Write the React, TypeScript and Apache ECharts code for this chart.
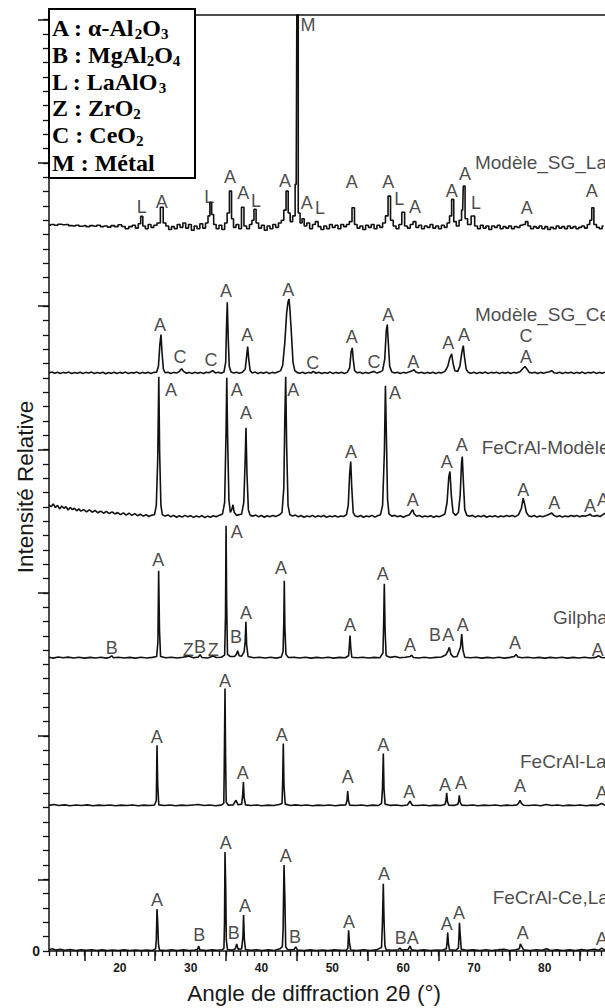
import { useEffect, useRef } from 'react';
import * as echarts from 'echarts';

// ---- axes ----
const X_MIN = 10;
const X_MAX = 88.5;
const Y_MAX = 653.2;
const xTickLabels = [20, 30, 40, 50, 60, 70, 80];
const xLongTicks = [15, 25, 35, 45, 55, 65, 75, 85];
const yTickLabels = [0];
const yLongTicks = [50, 150, 250, 350, 450, 550, 650];

// ---- diffractograms: [2θ, relative intensity above own baseline] ----
const fecralCeLa = [
  [10, 0.8], [10.5, 1.5], [11, 0.6], [11.6, 1.2], [12.2, 0.5], [13, 1], [13.8, 0.4], [14.5, 0.9], [15.3, 0.5], [16, 0.9],
  [16.8, 0.3], [17.5, 0.8], [18.3, 0.4], [19, 0.7], [19.8, 0.3], [20.6, 0.8], [21.4, 0.4], [22.2, 0.7], [23, 0.3], [23.8, 0.6],
  [24.6, 0.4], [25.05, 1.5], [25.15, 8], [25.25, 29.3], [25.35, 20], [25.45, 5], [25.6, 0.6], [26.5, 0.4], [27.3, 0.9], [28.1, 0.4],
  [29, 0.8], [29.8, 0.4], [30.6, 0.7], [31, 1.2], [31.12, 3.5], [31.3, 0.8], [32.2, 0.4], [33, 0.8], [33.8, 0.5], [34.5, 0.9],
  [34.7, 2], [34.78, 20], [34.85, 69], [34.95, 45], [35.03, 8], [35.2, 1], [35.9, 0.6], [36.3, 1.5], [36.5, 4.9], [36.7, 1.2],
  [37.2, 1.5], [37.38, 10], [37.47, 25.1], [37.58, 8], [37.75, 1], [38.5, 0.5], [39.3, 0.9], [40.1, 0.4], [41, 0.8], [41.8, 0.3],
  [42.6, 1.5], [42.95, 3], [43.05, 15], [43.18, 60], [43.3, 38], [43.42, 3], [43.7, 0.8], [44.6, 1], [44.83, 2.8], [45.1, 0.6],
  [46, 0.4], [46.9, 0.8], [47.7, 0.3], [48.6, 0.7], [49.4, 0.4], [50.3, 0.8], [51.2, 0.5], [52, 0.7], [52.2, 2], [52.3, 14.5],
  [52.42, 6], [52.6, 0.7], [53.5, 0.4], [54.4, 0.9], [55.3, 0.4], [56.2, 0.8], [56.95, 2.5], [57.08, 20], [57.2, 47], [57.3, 22],
  [57.42, 4], [57.6, 0.8], [58.5, 0.5], [59.3, 0.9], [59.55, 2], [59.8, 0.6], [60.7, 1], [60.97, 3.5], [61.2, 0.8], [62, 0.4],
  [62.9, 0.8], [63.8, 0.3], [64.7, 0.7], [65.5, 0.5], [66.1, 1.5], [66.2, 6], [66.29, 12.8], [66.4, 5], [66.55, 0.8], [67.4, 0.5],
  [67.8, 2], [67.88, 10], [67.95, 19.7], [68.05, 12], [68.2, 1.2], [69, 0.5], [69.9, 0.8], [70.8, 0.3], [71.7, 0.9], [72.5, 0.4],
  [73.4, 0.8], [74.2, 1.2], [75, 0.4], [75.9, 0.8], [76.4, 1.5], [76.55, 4.9], [76.75, 3], [77, 0.8], [77.9, 0.4], [78.8, 0.9],
  [79.6, 0.5], [80.27, 1.5], [80.8, 0.4], [81.7, 0.8], [82.6, 0.4], [83.5, 0.8], [84.3, 0.4], [85.2, 1], [86, 0.5], [87, 1.2],
  [87.6, 0.5], [88.03, 2], [88.5, 0.6],
];

const fecralLa = [
  [10, 0.6], [10.7, 1.2], [11.4, 0.5], [12.2, 1], [13, 0.4], [13.8, 0.9], [14.6, 0.5], [15.4, 1], [16.2, 0.4], [17, 0.8],
  [17.8, 0.5], [18.6, 0.9], [19.4, 0.4], [20.2, 0.8], [21, 0.5], [21.8, 0.9], [22.6, 0.4], [23.4, 0.8], [24.2, 0.5], [24.9, 0.9],
  [25.15, 4], [25.25, 42.6], [25.35, 15], [25.5, 1], [26.3, 0.5], [27.1, 0.9], [27.9, 0.4], [28.7, 0.8], [29.5, 0.5], [30.3, 0.9],
  [31.1, 1.2], [31.9, 0.5], [32.7, 0.9], [33.5, 0.4], [34.3, 0.8], [34.68, 2], [34.75, 30], [34.85, 82.1], [34.93, 35], [35.02, 3],
  [35.3, 0.8], [36, 0.9], [36.4, 4.2], [36.7, 1], [37.2, 1.5], [37.35, 8], [37.45, 17], [37.55, 6], [37.75, 1], [38.5, 0.5],
  [39.3, 0.9], [40.1, 0.4], [40.9, 0.8], [41.7, 0.5], [42.5, 1.2], [42.9, 2], [42.98, 15], [43.08, 43.8], [43.18, 14], [43.35, 1.5],
  [44.1, 0.5], [44.8, 1], [45.6, 0.5], [46.4, 0.9], [47.2, 0.4], [48, 0.8], [48.8, 0.5], [49.6, 0.9], [50.4, 0.4], [51.2, 0.8],
  [51.9, 1], [52.08, 4], [52.17, 10.7], [52.28, 4], [52.45, 0.8], [53.3, 0.5], [54.1, 0.9], [54.9, 0.4], [55.7, 0.8], [56.5, 0.5],
  [56.95, 2], [57.08, 12], [57.2, 36.8], [57.3, 12], [57.45, 1.5], [58.2, 0.6], [59, 0.9], [59.8, 0.4], [60.6, 0.9], [60.97, 3.5],
  [61.3, 0.7], [62.1, 0.5], [62.9, 0.9], [63.7, 0.4], [64.5, 0.8], [65.3, 0.5], [65.9, 1.2], [66.05, 4], [66.15, 9.3], [66.27, 3],
  [66.45, 0.8], [67.2, 0.6], [67.75, 1.5], [67.85, 4], [67.93, 7.7], [68.05, 3], [68.25, 0.8], [69, 0.5], [69.8, 0.9], [70.6, 0.4],
  [71.4, 0.8], [72.2, 0.5], [73, 0.9], [73.8, 0.4], [74.6, 0.8], [75.4, 0.5], [76.1, 1], [76.35, 2.5], [76.5, 4.2], [76.7, 2],
  [77, 0.7], [77.8, 0.5], [78.6, 0.9], [79.4, 0.4], [80.2, 1.2], [81, 0.5], [81.8, 0.9], [82.6, 0.4], [83.4, 0.8], [84.2, 0.5],
  [85, 0.9], [85.8, 0.4], [86.6, 0.8], [87.4, 0.6], [88, 2], [88.5, 0.7],
];

const gilphal = [
  [10, 1], [10.6, 0.4], [11.3, 1.2], [12, 0.6], [12.7, 1.1], [13.5, 0.5], [14.2, 1], [15, 0.4], [15.8, 0.9], [16.6, 0.5],
  [17.3, 1], [18.1, 0.4], [18.6, 1], [18.85, 2], [19.1, 0.6], [19.8, 1], [20.6, 0.5], [21.4, 0.9], [22.2, 0.4], [23, 1],
  [23.8, 0.5], [24.6, 0.9], [25.2, 1.5], [25.38, 12], [25.48, 61.4], [25.6, 20], [25.75, 1.5], [26.5, 0.6], [27.3, 1], [28.1, 0.5],
  [28.9, 1], [29.67, 1.8], [30.4, 0.6], [31.1, 1.2], [31.32, 2.8], [31.6, 0.8], [32.4, 0.5], [33.2, 1.8], [33.6, 0.8], [34.3, 1],
  [34.8, 2.5], [34.92, 30], [35.0, 92.8], [35.08, 40], [35.2, 3], [35.6, 1.5], [36.2, 1.5], [36.45, 3], [36.64, 5.6], [36.85, 2],
  [37.2, 1.8], [37.55, 5], [37.7, 12], [37.8, 25.8], [37.9, 10], [38.1, 1.5], [38.9, 0.6], [39.7, 1], [40.5, 0.5], [41.3, 1],
  [42.1, 0.4], [42.8, 1.2], [43.05, 5], [43.15, 25], [43.22, 54.4], [43.3, 22], [43.45, 3], [43.8, 0.8], [44.6, 1], [45.4, 0.5],
  [46.2, 1], [47, 0.4], [47.8, 0.9], [48.6, 0.5], [49.4, 1], [50.2, 0.4], [51, 0.9], [51.8, 0.6], [52.3, 2], [52.42, 10],
  [52.5, 16.1], [52.6, 8], [52.75, 1], [53.5, 0.6], [54.3, 1], [55.1, 0.5], [55.9, 0.9], [56.7, 0.6], [57.15, 4], [57.25, 25],
  [57.34, 52.3], [57.45, 20], [57.6, 2], [58.2, 0.9], [58.9, 1.5], [59.5, 0.6], [60.3, 1], [61, 1.5], [61.2, 2.5], [61.45, 0.8],
  [62.2, 0.5], [63, 1], [63.8, 0.5], [64.6, 0.9], [65.4, 1.2], [66.0, 2.5], [66.3, 5], [66.52, 7.9], [66.75, 3], [67.1, 1.2],
  [67.6, 1.5], [68.1, 8], [68.27, 17.2], [68.45, 6], [68.7, 1], [69.5, 0.6], [70.3, 1], [71.1, 0.4], [71.9, 0.9], [72.7, 0.5],
  [73.5, 1], [74.3, 0.4], [75.1, 0.9], [75.7, 1.5], [75.93, 3], [76.2, 1.2], [76.8, 0.6], [77.6, 1], [78.4, 0.5], [79.2, 0.9],
  [80, 0.4], [80.8, 0.9], [81.6, 0.5], [82.4, 1], [83.2, 0.4], [84, 0.9], [84.8, 0.5], [85.6, 1], [86.4, 0.5], [87.2, 0.9],
  [87.6, 2], [88, 0.8], [88.5, 0.6],
];

const fecralModele = [
  [10, 8.4], [10.3, 7], [10.6, 9], [10.9, 6.5], [11.2, 8], [11.5, 5.5], [11.8, 7.5], [12.1, 6], [12.4, 7], [12.7, 4.8],
  [13, 6.5], [13.3, 5], [13.6, 6], [13.9, 4.2], [14.2, 5.5], [14.5, 4], [14.9, 5], [15.3, 3.5], [15.7, 4.8], [16.1, 3.2],
  [16.5, 4.5], [16.9, 2.8], [17.3, 4], [17.7, 2.5], [18.1, 3.8], [18.5, 2.2], [18.9, 3.5], [19.3, 2], [19.7, 3], [20.1, 1.5],
  [20.5, 2.8], [20.9, 1.2], [21.3, 2.5], [21.7, 1], [22.1, 2.2], [22.5, 0.8], [22.9, 1.8], [23.3, 0.5], [23.7, 1.5], [24.1, 0.2],
  [24.5, 1.2], [24.9, 1.5], [25.15, 8], [25.35, 40], [25.5, 97.7], [25.62, 45], [25.8, 8], [26.0, 1.5], [26.4, 0.5], [26.8, 1.3],
  [27.2, 0], [27.6, 1], [28, -0.3], [28.4, 0.8], [28.8, -0.2], [29.2, 1], [29.6, 0], [30, 0.8], [30.4, -0.4], [30.8, 0.6],
  [31.2, -0.2], [31.6, 0.9], [32, -0.5], [32.4, 0.5], [32.8, -0.3], [33.2, 0.7], [33.6, 0], [34, 1], [34.5, 2], [34.8, 10],
  [35.0, 60], [35.1, 97], [35.22, 55], [35.4, 12], [35.6, 3], [35.8, 5], [35.98, 8.4], [36.15, 3], [36.5, 1], [37.2, 2],
  [37.5, 10], [37.7, 40], [37.81, 62.1], [37.95, 30], [38.15, 5], [38.4, 1], [38.8, 0.5], [39.2, 1.2], [39.6, 0], [40, 0.9],
  [40.4, -0.3], [40.8, 0.7], [41.2, 0], [41.6, 1], [42, 0.2], [42.5, 1.2], [42.9, 3], [43.15, 20], [43.3, 70], [43.42, 97.7],
  [43.55, 50], [43.75, 8], [44, 1.5], [44.4, 0.5], [44.8, 1.2], [45.2, 0], [45.6, 0.9], [46, -0.3], [46.4, 0.6], [46.8, 0],
  [47.2, 1], [47.6, -0.2], [48, 0.7], [48.4, 0], [48.8, 0.9], [49.2, -0.4], [49.6, 0.5], [50, 0], [50.4, 0.8], [50.8, -0.2],
  [51.2, 0.6], [51.6, 0.2], [52, 1.5], [52.25, 8], [52.45, 30], [52.6, 38.6], [52.75, 20], [52.95, 3], [53.2, 0.8], [53.6, 0],
  [54, 0.9], [54.4, -0.3], [54.8, 0.6], [55.2, 0], [55.6, 1], [56, -0.2], [56.4, 0.7], [56.8, 1.5], [57.1, 8], [57.35, 45],
  [57.5, 91.4], [57.62, 60], [57.8, 12], [58, 2], [58.4, 0.5], [58.8, 1], [59.2, 0], [59.6, 0.8], [60, -0.3], [60.4, 0.6],
  [60.9, 1.5], [61.2, 4], [61.35, 4.9], [61.55, 2], [61.9, 0.4], [62.3, 0.9], [62.7, -0.2], [63.1, 0.6], [63.5, 0], [63.9, 0.8],
  [64.3, -0.3], [64.7, 0.5], [65.1, 0], [65.5, 0.9], [65.9, 2], [66.2, 10], [66.45, 28], [66.61, 31.6], [66.8, 15], [67.05, 3],
  [67.4, 1], [67.8, 3], [68.05, 15], [68.25, 38], [68.35, 42.1], [68.5, 25], [68.7, 5], [69, 1], [69.4, 0.4], [69.8, 1],
  [70.2, -0.2], [70.6, 0.7], [71, 0], [71.4, 0.9], [71.8, -0.3], [72.2, 0.6], [72.6, 0], [73, 0.8], [73.4, -0.2], [73.8, 0.6],
  [74.2, 0], [74.6, 0.9], [75, 0.2], [75.4, 1], [75.8, 0], [76.3, 1.5], [76.7, 6], [76.95, 13], [77.15, 9], [77.4, 3],
  [77.7, 0.8], [78.1, 0], [78.5, 0.9], [78.9, -0.2], [79.3, 0.6], [79.7, 0], [80.2, 0.9], [80.7, 2], [80.97, 2.6], [81.3, 1],
  [81.7, 0], [82.1, 0.8], [82.5, -0.2], [82.9, 0.6], [83.3, 0], [83.7, 0.9], [84.1, 0.3], [84.5, 1], [84.9, 0], [85.3, 0.8],
  [85.8, 0.5], [86.2, 1.2], [86.38, 1.9], [86.6, 0.8], [87, 0.4], [87.4, 1], [87.8, 0.2], [88.2, 1.5], [88.5, 2.5],
];

const modeleSgCe = [
  [10, 0.3], [10.4, 1], [10.8, 0.2], [11.2, 0.9], [11.6, 0], [12, 0.8], [12.4, 0.3], [12.8, 1], [13.2, 0], [13.6, 0.7],
  [14, 0.2], [14.4, 0.9], [14.8, 0], [15.2, 0.8], [15.6, 0.3], [16, 1], [16.4, 0], [16.8, 0.7], [17.2, 0.2], [17.6, 0.9],
  [18, -0.2], [18.4, 0.7], [18.8, 0.1], [19.2, 0.9], [19.6, 0], [20, 0.8], [20.4, 0.2], [20.8, 1], [21.2, 0], [21.6, 0.7],
  [22, 0.3], [22.4, 1], [22.8, 0], [23.2, 0.8], [23.6, 0.2], [24, 0.9], [24.4, 0], [24.8, 0.8], [25.2, 1], [25.45, 5],
  [25.65, 20], [25.81, 27.2], [25.95, 15], [26.15, 3], [26.4, 0.5], [26.8, 0.9], [27.2, 0], [27.6, 0.8], [28, 0.3], [28.4, 1.5],
  [28.73, 3.3], [29, 1.5], [29.4, 0.2], [29.8, 0.8], [30.2, 0], [30.6, 0.9], [31, 0.2], [31.4, 0.8], [31.8, 0], [32.2, 0.9],
  [32.6, 0.5], [33.11, 2], [33.5, 0.4], [33.9, 0.9], [34.3, 0.2], [34.7, 1], [34.95, 8], [35.05, 30], [35.17, 49.8], [35.3, 25],
  [35.45, 5], [35.7, 1], [36.1, 0.3], [36.5, 0.9], [36.9, 0.2], [37.3, 0.9], [37.7, 3], [37.9, 12], [38.05, 18.8], [38.2, 10],
  [38.4, 2], [38.7, 0.4], [39.1, 1], [39.5, 0], [39.9, 0.8], [40.3, 0.2], [40.7, 1], [41.1, 0], [41.5, 0.8], [41.9, 0.3],
  [42.3, 1], [42.7, 2], [43.0, 6], [43.3, 22], [43.55, 42], [43.75, 50], [43.88, 52.1], [44.0, 46], [44.2, 30], [44.45, 8],
  [44.7, 2], [45, 0.8], [45.4, 0.2], [45.8, 0.9], [46.2, 0], [46.6, 0.8], [47.0, 0.3], [47.31, 1.5], [47.7, 0.2], [48.1, 0.9],
  [48.5, 0], [48.9, 0.7], [49.3, 0.2], [49.7, 1], [50.1, 0], [50.5, 0.8], [50.9, 0.2], [51.3, 0.9], [51.7, 0], [52.1, 0.8],
  [52.45, 4], [52.65, 15], [52.82, 17.9], [52.95, 10], [53.15, 2], [53.5, 0.5], [53.9, 0.9], [54.3, 0], [54.7, 0.8], [55.1, 0.2],
  [55.5, 0.9], [55.88, 1.5], [56.3, 0.3], [56.7, 1], [57.1, 2], [57.4, 10], [57.62, 30], [57.76, 34.2], [57.9, 22], [58.1, 5],
  [58.4, 1], [58.8, 0.3], [59.2, 0.9], [59.6, 0], [60, 0.8], [60.4, 0.3], [60.8, 1], [61.2, 1.8], [61.53, 2.6], [61.8, 1],
  [62.2, 0.3], [62.6, 0.9], [63, 0], [63.4, 0.8], [63.8, 0.2], [64.2, 0.9], [64.6, 0], [65, 0.8], [65.4, 0.3], [65.9, 1.5],
  [66.3, 5], [66.6, 11], [66.85, 13.7], [67.05, 7], [67.3, 2], [67.7, 1.5], [68.0, 5], [68.3, 15], [68.49, 19.5], [68.65, 12],
  [68.9, 3], [69.2, 0.8], [69.6, 0.2], [70, 0.9], [70.4, 0], [70.8, 0.8], [71.2, 0.2], [71.6, 1], [72, 0], [72.4, 0.8],
  [72.8, 0.3], [73.2, 0.9], [73.6, 0], [74, 0.8], [74.4, 0.2], [74.8, 0.9], [75.2, 0], [75.6, 0.8], [76, 0.3], [76.5, 1.2],
  [76.9, 3.5], [77.2, 4.9], [77.5, 3], [77.8, 0.8], [78.2, 0.3], [78.6, 0.9], [79, 0], [79.4, 0.8], [79.8, 0.2], [80.3, 0.9],
  [80.7, 1.2], [80.97, 2], [81.3, 0.6], [81.7, 0.2], [82.1, 0.9], [82.5, 0], [82.9, 0.8], [83.3, 0.3], [83.7, 0.9], [84.1, 0],
  [84.5, 0.8], [84.9, 0.2], [85.3, 1], [85.7, 0], [86.1, 0.8], [86.5, 0.3], [86.9, 1], [87.3, 0], [87.7, 0.8], [88.1, 0.2],
  [88.5, 0.9],
];

const modeleSgLa = [
  [10, 1.5], [10.5, 2], [11, 1.5], [11.5, 2.2], [12, 1.8], [12.5, 2], [13, 1.2], [13.5, 1], [14, 1.5], [14.5, 0.8],
  [15, 1.2], [15.5, 0.5], [16, 1.2], [16.5, 0.8], [17, 1.5], [17.5, 0.5], [18, 1], [18.5, 0.2], [19, 1.2], [19.5, 0.5],
  [20, 1.8], [20.5, 0.6], [21, -1], [21.5, 0.5], [22, 1.5], [22.4, -0.5], [22.8, 2.5], [23.09, 7.7], [23.4, 1], [23.8, -1],
  [24.2, 2], [24.6, 0], [25, 1.5], [25.5, 3], [25.95, 14], [26.3, 3], [26.7, 1], [27.1, -1.5], [27.5, 0.5], [27.9, -1],
  [28.3, 2], [28.7, 0], [29.1, 3], [29.5, -0.5], [29.9, 2], [30.3, -2], [30.7, 1], [31.1, -1], [31.5, 2.5], [31.9, -0.5],
  [32.3, 3], [32.6, 8], [32.83, 17.4], [33.1, 9], [33.4, 2], [33.8, -1], [34.2, 1.5], [34.6, -1.5], [35, 3], [35.3, 10],
  [35.65, 25.3], [35.9, 6], [36.2, 0], [36.6, 2], [37, -1], [37.35, 14], [37.7, 1], [38.1, -1], [38.5, 2], [38.8, 5],
  [39.08, 12.6], [39.4, 3], [39.8, -0.5], [40.2, 1.5], [40.6, -2], [41, 1], [41.4, -1], [41.8, 2], [42.2, 0], [42.6, 3],
  [43, 5], [43.3, 12], [43.64, 25.3], [43.9, 10], [44.2, 4], [44.6, 8], [44.9, 30], [45.08, 148.6], [45.3, 10], [45.6, 3],
  [45.86, 6], [46.2, 1], [46.6, 3], [47, -1], [47.4, 2], [47.8, 4], [48.2, 0.5], [48.6, -1.5], [49, 1], [49.4, -1],
  [49.8, 2], [50.2, 0], [50.6, 1.5], [51, -1], [51.4, 2], [51.8, 0.5], [52.2, 2], [52.6, 4], [52.96, 13.7], [53.3, 2],
  [53.7, -0.5], [54.1, 1], [54.5, -1.5], [54.9, 1.5], [55.3, 0], [55.7, 2], [56.1, -1], [56.5, 1.5], [56.9, 0], [57.3, 3],
  [57.7, 8], [58.04, 21.8], [58.4, 5], [58.8, 1], [59.2, -1], [59.6, 2], [60.02, 10.5], [60.4, 1], [60.8, -0.5], [61.2, 2],
  [61.6, 4], [62, 0], [62.4, 1.5], [62.8, -1], [63.2, 1], [63.6, 0], [64, 2], [64.4, -0.5], [64.8, 1], [65.2, -1],
  [65.6, 1.5], [66, 0], [66.4, 3], [66.7, 8], [66.99, 19.5], [67.3, 4], [67.7, 1], [68.1, 5], [68.4, 12], [68.59, 28.8],
  [68.9, 6], [69.3, 2], [69.9, 7.9], [70.3, 1], [70.7, -1], [71.1, 1.5], [71.5, -0.5], [71.9, 1], [72.3, -1.5], [72.7, 1],
  [73.1, 0], [73.5, 1.5], [73.9, -1], [74.3, 0.5], [74.7, -0.5], [75.1, 1], [75.5, -1], [75.9, 0.5], [76.3, 0], [76.7, 1.5],
  [77.1, 2], [77.44, 4], [77.8, 1], [78.2, -1], [78.6, 0.5], [79, -0.5], [79.4, 1], [79.8, -1], [80.2, 0.5], [80.6, -1.5],
  [81, 0], [81.4, -1], [81.8, 1], [82.2, -0.5], [82.6, 0.5], [83, -1], [83.4, 1], [83.8, -0.5], [84.2, 0.5], [84.6, -1],
  [85, 0], [85.4, 1], [85.8, -0.5], [86.2, 2], [86.5, 5], [86.76, 13.7], [87.1, 2], [87.5, 0], [87.9, -1], [88.3, 1],
];

// ---- phase letters: [letter, 2θ, height above own baseline] ----
const fecralCeLaMarks = [
  ['A', 25.25, 35.6], ['B', 31.2, 11.2], ['A', 34.95, 75.4], ['B', 36.1, 12.6], ['A', 37.67, 31.4], ['A', 43.42, 66.3],
  ['B', 44.73, 9.8], ['A', 52.36, 20.4], ['A', 57.3, 53.7], ['B', 59.65, 9.1], ['A', 61.35, 9.1], ['A', 66.15, 18.8],
  ['A', 67.89, 26.5], ['A', 76.88, 12.6], ['A', 88.03, 8.4],
];
const fecralLaMarks = [
  ['A', 25.2, 48.1], ['A', 34.85, 87.4], ['A', 37.35, 23.4], ['A', 42.85, 49.7], ['A', 52.17, 20.6], ['A', 57.2, 42.8],
  ['A', 60.87, 10.2], ['A', 65.91, 14.8], ['A', 68.17, 16.4], ['A', 76.5, 14.4], ['A', 88.03, 9.3],
];
const gilphalMarks = [
  ['B', 18.85, 7.2], ['A', 25.43, 68.9], ['Z', 29.67, 6], ['B', 31.32, 8.4], ['Z', 33.2, 6], ['A', 36.5, 88.6],
  ['B', 36.4, 15.3], ['A', 37.81, 31.7], ['A', 42.75, 63.1], ['A', 52.5, 23.5], ['A', 57.11, 59.1], ['A', 60.97, 9.5],
  ['B', 64.5, 16.5], ['A', 66.37, 16.5], ['A', 68.41, 23.5], ['A', 75.79, 11.1], ['A', 87.47, 6],
];
const fecralModeleMarks = [
  ['A', 27.22, 88.5], ['A', 36.5, 88.5], ['A', 37.81, 72.2], ['A', 44.49, 88.5], ['A', 58.85, 86.2], ['A', 52.64, 45.4],
  ['A', 61.35, 11.7], ['A', 66.15, 38.5], ['A', 68.27, 50.1], ['A', 76.96, 18.7], ['A', 81.34, 9.8], ['A', 86.38, 7.5],
  ['A', 88.21, 11.7],
];
const modeleSgCeMarks = [
  ['A', 25.67, 33.8], ['C', 28.5, 11.7], ['C', 32.87, 9.4], ['A', 34.99, 57.8], ['A', 38.0, 26.9], ['A', 43.79, 58.3],
  ['C', 47.23, 7.5], ['A', 52.74, 25.7], ['C', 55.88, 8.2], ['A', 57.9, 40.8], ['A', 61.43, 8.2], ['A', 66.37, 21.1],
  ['A', 68.59, 26.9], ['C', 77.35, 26], ['A', 77.35, 11.2],
];
const modeleSgLaMarks = [
  ['L', 23.09, 14.4], ['A', 25.91, 17.9], ['L', 32.63, 21.4], ['A', 35.55, 35.3], ['A', 37.43, 24.2], ['L', 39.22, 18.7],
  ['A', 43.32, 32.7], ['M', 46.57, 141.2], ['A', 46.38, 16.8], ['L', 48.26, 13.2], ['A', 52.74, 31.5], ['A', 57.9, 31.5],
  ['L', 59.46, 19.6], ['A', 61.67, 14.4], ['A', 66.85, 25.5], ['A', 68.73, 37.2], ['L', 70.28, 16.8], ['A', 77.44, 13.2],
  ['A', 86.62, 25.5],
];

// ---- samples, bottom to top ----
const sampleNames = ['FeCrAl-Ce,La', 'FeCrAl-La', 'Gilphal', 'FeCrAl-Modèle', 'Modèle_SG_Ce', 'Modèle_SG_La'];
const sampleOffsets = [0, 101, 204, 303, 403, 505];
const sampleNameAnchors = [[72.64, 37], [76.5, 31.1], [81.16, 28.4], [71.09, 48.5], [70.14, 41], [70.14, 45.1]];
const samplePatterns = [fecralCeLa, fecralLa, gilphal, fecralModele, modeleSgCe, modeleSgLa];
const sampleMarks = [fecralCeLaMarks, fecralLaMarks, gilphalMarks, fecralModeleMarks, modeleSgCeMarks, modeleSgLaMarks];
const stepped = [false, false, false, false, false, true];

// ---- phase key ----
const phaseKey = [
  [['A : α-Al', 0], ['2', 1], ['O', 0], ['3', 1]],
  [['B : MgAl', 0], ['2', 1], ['O', 0], ['4', 1]],
  [['L : LaAlO', 0], ['3', 1]],
  [['Z : ZrO', 0], ['2', 1]],
  [['C : CeO', 0], ['2', 1]],
  [['M : Métal', 0]],
];

const SANS = '"Liberation Sans", Arial, sans-serif';
const SERIF = '"Liberation Serif", "Times New Roman", serif';
const INK = '#111';
const TEXT = '#1a1a1a';

function range(from: number, to: number, step: number) {
  const out: number[] = [];
  for (let v = from; v <= to + 1e-9; v += step) out.push(Math.round(v * 1000) / 1000);
  return out;
}

export default function App() {
  const ref = useRef<HTMLDivElement>(null);

  useEffect(() => {
    if (!ref.current) return;
    const chart = echarts.init(ref.current, null, { renderer: 'svg' });

    const lineSeries = samplePatterns.map((pts, i) => ({
      type: 'line',
      name: sampleNames[i],
      xAxisIndex: 0,
      yAxisIndex: 0,
      data: pts.map(([x, y]) => [x, y + sampleOffsets[i]]),
      showSymbol: false,
      symbol: 'none',
      step: stepped[i] ? 'middle' : false,
      lineStyle: { color: INK, width: 1.6 },
      silent: true,
      z: 3,
    }));

    const markSeries = sampleMarks.map((marks, i) => ({
      type: 'scatter',
      xAxisIndex: 0,
      yAxisIndex: 0,
      symbolSize: 1,
      itemStyle: { color: 'rgba(0,0,0,0)' },
      data: marks.map(([t, x, y]) => ({ name: t as string, value: [x as number, (y as number) + sampleOffsets[i]] })),
      label: {
        show: true,
        position: 'inside',
        formatter: '{b}',
        color: TEXT,
        fontFamily: SANS,
        fontSize: 18,
      },
      silent: true,
      z: 4,
    }));

    const nameSeries = {
      type: 'scatter',
      xAxisIndex: 0,
      yAxisIndex: 0,
      symbolSize: 1,
      itemStyle: { color: 'rgba(0,0,0,0)' },
      data: sampleNameAnchors.map(([x, y], i) => ({ name: sampleNames[i], value: [x, y + sampleOffsets[i]] })),
      label: {
        show: true,
        position: 'inside',
        align: 'left',
        formatter: '{b}',
        color: TEXT,
        fontFamily: SANS,
        fontSize: 19,
      },
      silent: true,
      z: 4,
    };

    const keyLineCenters = [28.3, 55, 81.7, 108.3, 135, 163.3];
    const keyTexts = phaseKey.map((segs, i) => ({
      type: 'text',
      x: 52,
      y: keyLineCenters[i],
      z: 101,
      style: {
        text: segs.map(([s, sub]) => `{${sub ? 's' : 'm'}|${s}}`).join(''),
        verticalAlign: 'middle',
        align: 'left',
        rich: {
          m: { fontFamily: SERIF, fontWeight: 'bold', fontSize: 24, lineHeight: 27, fill: '#000', color: '#000' },
          s: { fontFamily: SERIF, fontWeight: 'bold', fontSize: 15, lineHeight: 18, verticalAlign: 'bottom', fill: '#000', color: '#000' },
        },
      },
    }));

    chart.setOption({
      animation: false,
      backgroundColor: '#fff',
      grid: { left: 49, right: 0, top: 15, bottom: 57, containLabel: false, outerBoundsMode: 'none' },
      xAxis: [
        {
          type: 'value',
          min: X_MIN,
          max: X_MAX,
          interval: 1,
          position: 'bottom',
          axisLine: { show: true, onZero: false, lineStyle: { color: INK, width: 1.5 } },
          axisTick: { show: true, inside: false, length: 5, customValues: range(10, 88, 1), lineStyle: { color: INK, width: 1.3 } },
          axisLabel: { customValues: xTickLabels, color: TEXT, fontFamily: SANS, fontWeight: 'bold', fontSize: 12, margin: 11 },
          splitLine: { show: false },
        },
        {
          type: 'value',
          min: X_MIN,
          max: X_MAX,
          interval: 1,
          position: 'bottom',
          axisLine: { show: false, onZero: false },
          axisTick: { show: true, inside: false, length: 10, customValues: xLongTicks, lineStyle: { color: INK, width: 1.5 } },
          axisLabel: { show: false },
          splitLine: { show: false },
        },
      ],
      yAxis: [
        {
          type: 'value',
          min: 0,
          max: Y_MAX,
          interval: 10,
          position: 'left',
          axisLine: { show: true, onZero: false, lineStyle: { color: INK, width: 1.5 } },
          axisTick: { show: true, inside: false, length: 6, customValues: range(0, 650, 10), lineStyle: { color: INK, width: 1.3 } },
          axisLabel: { customValues: yTickLabels, color: TEXT, fontFamily: SANS, fontWeight: 'bold', fontSize: 14, margin: 9 },
          splitLine: { show: false },
        },
        {
          type: 'value',
          min: 0,
          max: Y_MAX,
          interval: 10,
          position: 'left',
          axisLine: { show: false, onZero: false },
          axisTick: { show: true, inside: false, length: 11, customValues: yLongTicks, lineStyle: { color: INK, width: 1.5 } },
          axisLabel: { show: false },
          splitLine: { show: false },
        },
      ],
      series: [...lineSeries, ...markSeries, nameSeries],
      graphic: [
        {
          type: 'line',
          shape: { x1: 49, y1: 15, x2: 605, y2: 15 },
          style: { stroke: INK, lineWidth: 1.5 },
          z: 50,
        },
        {
          type: 'rect',
          shape: { x: 49, y: 9, width: 146, height: 169 },
          style: { fill: '#fff', stroke: '#000', lineWidth: 2 },
          z: 100,
        },
        ...keyTexts,
        {
          type: 'text',
          x: 25,
          y: 487,
          rotation: Math.PI / 2,
          style: {
            text: 'Intensité Relative',
            fontFamily: SANS,
            fontSize: 22.5,
            fill: TEXT,
            align: 'center',
            verticalAlign: 'middle',
          },
        },
        {
          type: 'text',
          x: 314,
          y: 993,
          style: {
            text: 'Angle de diffraction 2θ (°)',
            fontFamily: SANS,
            fontSize: 22.5,
            fill: TEXT,
            align: 'center',
            verticalAlign: 'middle',
          },
        },
      ],
    });

    return () => chart.dispose();
  }, []);

  return (
    <div
      ref={ref}
      style={{ position: 'fixed', left: 0, top: 0, width: 605, height: 1008, background: '#fff' }}
    />
  );
}
